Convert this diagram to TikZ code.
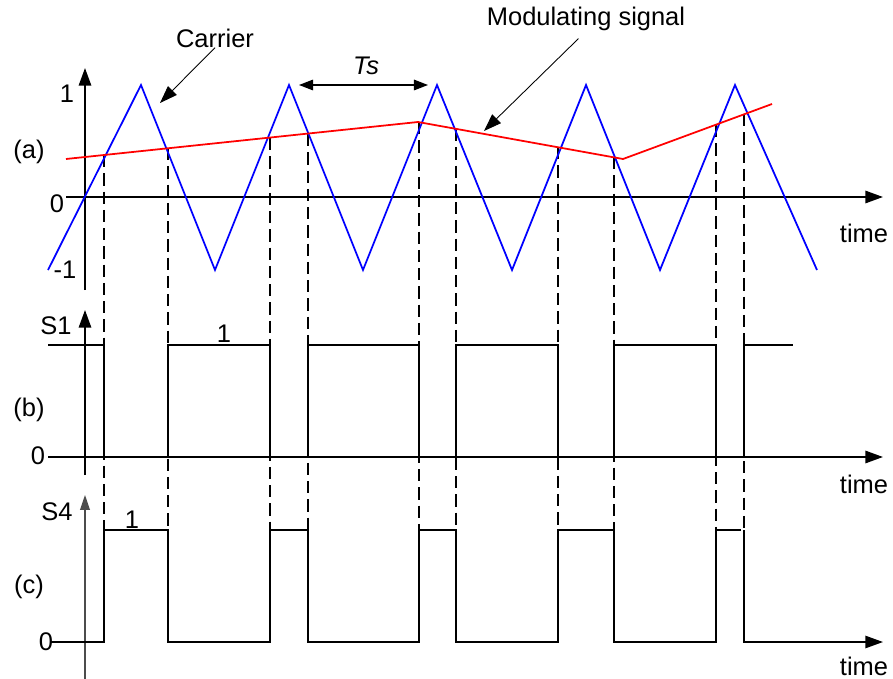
\documentclass[tikz,border=0pt]{standalone}
\usepackage{fontspec}
\setmainfont{Liberation Sans}
\usetikzlibrary{arrows.meta,positioning}
\definecolor{carrierblue}{HTML}{0000FF}
\definecolor{modred}{HTML}{FF0000}

\tikzset{
	axis/.style={line width=1.1pt,-{Triangle[length=10pt,width=7pt]}},
	thinaxis/.style={line width=0.6pt,black!70,-{Triangle[length=8.5pt,width=5.6pt]}},
	wave/.style={line width=0.9pt},
	guide/.style={line width=1.1pt,dash pattern=on 7pt off 3.4pt},
	pointer/.style={line width=0.5pt,-{Triangle[length=10pt,width=7pt]}},
	lbl/.style={inner sep=0pt,font=\fontsize{14.5}{16}\selectfont}
}

\begin{document}
\begin{tikzpicture}[x=0.02cm,y=-0.02cm]
		\useasboundingbox (0,0) rectangle (893,679);
		\newcommand{\carrierpts}{(48,270) (141,85) (215,270) (289,85) (363,270) (437,85) (512,270) (586,85) (660,270) (735,85) (817,270)}
		
		% guide lines from the crossings
		\foreach \x/\y in {104/155,168/148,270/138,308/134,419/122,456/129,558/147,614/157,716/125,744/114}
			\draw[guide] (\x,\y) -- (\x,530);
		
		% (a) carrier and modulating signal
		\coordinate (aBot) at (85,290);
		\coordinate (aTop) at (85,68);
		\coordinate (aLeft) at (66,197);
		\coordinate (aRight) at (883,197);
		\draw[axis] (aBot) -- (aTop);
		\draw[axis] (aLeft) -- (aRight);
		\draw[carrierblue,line width=1pt,line join=miter] plot coordinates{\carrierpts};
		\draw[modred,line width=1pt] (66,159) -- (418,122) -- (623,159) -- (772,104);
		
		\node[lbl] (oneA) at (67,94) {1};
		\node[lbl] (zeroA) at (57,204) {0};
		\node[lbl] (minusA) at (65,270) {-1};
		\node[lbl] (tagA) at (29,152) {(a)};
		\node[lbl] (timeA) at (864,233) {time};
		
		\node[lbl] (carrier) at (215,38) {Carrier};
		\coordinate (carrierTip) at (160,103);
		\draw[pointer] (carrier.south) -- (carrierTip);
		
		\node[lbl] (modsig) at (586,19) {Modulating signal};
		\coordinate (modTip) at (484,131);
		\draw[pointer,shorten <=6pt] (modsig.south) -- (modTip);
		
		\node[lbl] (ts) at (366,66) {\itshape Ts};
		\coordinate (tsLeft) at (299,85);
		\coordinate (tsRight) at (428,85);
		\draw[line width=0.8pt,{Triangle[length=8pt,width=6pt]}-{Triangle[length=8pt,width=6pt]}] (tsLeft) -- (tsRight);
		
		% (b) S1
		\coordinate (bBot) at (85,475);
		\coordinate (bTop) at (85,310);
		\coordinate (bLeft) at (48,457);
		\coordinate (bRight) at (883,457);
		\draw[axis] (bBot) -- (bTop);
		\draw[axis] (bLeft) -- (bRight);
		\draw[wave] (48,345) -- (104,345) -- (104,457);
		\foreach \a/\b in {168/270,308/419,456/558,614/716}
			\draw[wave] (\a,457) |- (\b,345) -- (\b,457);
		\draw[wave] (744,457) -- (744,345) -- (793,345);
		
		\node[lbl] (sOne) at (56,326) {S1};
		\node[lbl] (oneB) at (224,334) {1};
		\node[lbl] (tagB) at (29,410) {(b)};
		\node[lbl] (zeroB) at (38,456) {0};
		\node[lbl] (timeB) at (864,484) {time};
		
		% (c) S4
		\coordinate (cBot) at (85,679);
		\coordinate (cTop) at (85,495);
		\coordinate (cRight) at (883,642);
		\draw[thinaxis] (cBot) -- (cTop);
		\draw[wave] (50,642) -- (104,642) -- (104,530) -- (168,530) -- (168,642) -- (270,642) -- (270,530) -- (308,530) -- (308,642) -- (419,642) -- (419,530) -- (456,530) -- (456,642) -- (558,642) -- (558,530) -- (614,530) -- (614,642) -- (716,642) -- (716,530) -- (741,530);
		\draw[wave,-{Triangle[length=10pt,width=7pt]}] (744,530) -- (744,642) -- (cRight);
		
		\node[lbl] (sFour) at (57,512) {S4};
		\node[lbl] (oneC) at (132,520) {1};
		\node[lbl] (tagC) at (29,587) {(c)};
		\node[lbl] (zeroC) at (46,642) {0};
		\node[lbl] (timeC) at (864,666) {time};
	\end{tikzpicture}
\end{document}
